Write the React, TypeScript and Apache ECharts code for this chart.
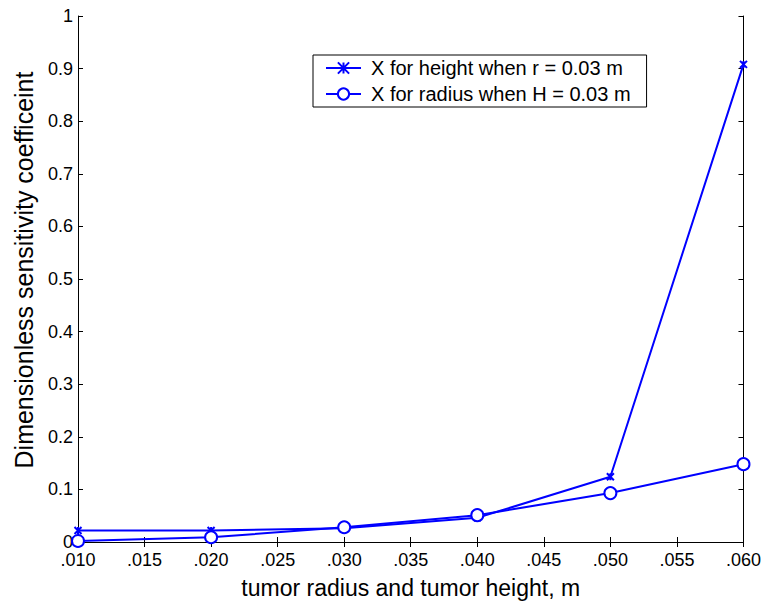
import React, { useEffect, useRef } from "react";
import * as echarts from "echarts";

const xValues = [0.01, 0.02, 0.03, 0.04, 0.05, 0.06];
const heightSeries = [0.022, 0.022, 0.026, 0.046, 0.124, 0.908];
const radiusSeries = [0.002, 0.009, 0.028, 0.051, 0.093, 0.148];
const seriesNames = ["X for height when r = 0.03 m", "X for radius when H = 0.03 m"];
const xTitle = "tumor radius and tumor height, m";
const yTitle = "Dimensionless sensitivity coefficeint";

const FONT = "Arial, 'Liberation Sans', sans-serif";
const BLUE = "#0000ff";
const crossPath = "path://M0,0L10,10M10,0L0,10M5,0L5,10";

export default function App() {
  const ref = useRef<HTMLDivElement>(null);
  useEffect(() => {
    const chart = echarts.init(ref.current!, null, { renderer: "svg" });
    const axisLine = { show: true, lineStyle: { color: "#000", width: 1 } };
    const tick = { show: true, inside: true, length: 5, lineStyle: { color: "#000" } };
    chart.setOption({
      animation: false,
      backgroundColor: "#fff",
      textStyle: { fontFamily: FONT },
      grid: { left: 78, right: 20, top: 16, bottom: 63, containLabel: false },
      graphic: [
        {
          type: "text",
          x: 24,
          y: 270,
          rotation: Math.PI / 2,
          style: {
            text: yTitle,
            fill: "#000",
            font: `25px ${FONT}`,
            align: "center",
            verticalAlign: "middle",
          },
        },
      ],
      legend: {
        orient: "vertical",
        left: 313,
        top: 55,
        padding: [1, 16, 1, 12],
        itemGap: 2,
        itemWidth: 35,
        itemHeight: 14,
        backgroundColor: "#fff",
        borderColor: "#000",
        borderWidth: 1,
        borderRadius: 0,
        textStyle: {
          fontFamily: FONT,
          fontSize: 20,
          lineHeight: 24,
          color: "#000",
          padding: [0, 0, 0, 5],
        },
        data: seriesNames,
      },
      xAxis: [
        {
          type: "value",
          min: 0.01,
          max: 0.06,
          interval: 0.005,
          axisLine,
          axisTick: tick,
          splitLine: { show: false },
          axisLabel: {
            color: "#000",
            fontSize: 18,
            lineHeight: 18,
            fontFamily: FONT,
            margin: 9,
            formatter: (v: number) => "." + v.toFixed(3).split(".")[1],
          },
          name: xTitle,
          nameLocation: "middle",
          nameGap: 34,
          nameTextStyle: { color: "#000", fontSize: 23, fontFamily: FONT },
        },
        {
          type: "value",
          position: "top",
          min: 0.01,
          max: 0.06,
          interval: 0.005,
          axisLine,
          axisTick: tick,
          axisLabel: { show: false },
          splitLine: { show: false },
        },
      ],
      yAxis: [
        {
          type: "value",
          min: 0,
          max: 1,
          interval: 0.1,
          axisLine,
          axisTick: tick,
          splitLine: { show: false },
          axisLabel: {
            color: "#000",
            fontSize: 18,
            lineHeight: 12,
            fontFamily: FONT,
            margin: 5,
            formatter: (v: number) => (v === 0 ? "0" : v === 1 ? "1" : v.toFixed(1)),
          },
        },
        {
          type: "value",
          position: "right",
          min: 0,
          max: 1,
          interval: 0.1,
          axisLine,
          axisTick: tick,
          axisLabel: { show: false },
          splitLine: { show: false },
        },
      ],
      series: [
        {
          name: seriesNames[0],
          type: "line",
          data: xValues.map((x, i) => [x, heightSeries[i]]),
          symbol: crossPath,
          symbolSize: 7,
          lineStyle: { color: BLUE, width: 2 },
          itemStyle: { color: BLUE, borderColor: BLUE, borderWidth: 2 },
        },
        {
          name: seriesNames[1],
          type: "line",
          data: xValues.map((x, i) => [x, radiusSeries[i]]),
          symbol: "emptyCircle",
          symbolSize: 12,
          lineStyle: { color: BLUE, width: 2 },
          itemStyle: { color: BLUE, borderColor: BLUE, borderWidth: 2 },
        },
      ],
    });
    return () => chart.dispose();
  }, []);
  return (
    <div
      ref={ref}
      style={{ position: "fixed", left: 0, top: 0, width: 764, height: 605, background: "#fff" }}
    />
  );
}
